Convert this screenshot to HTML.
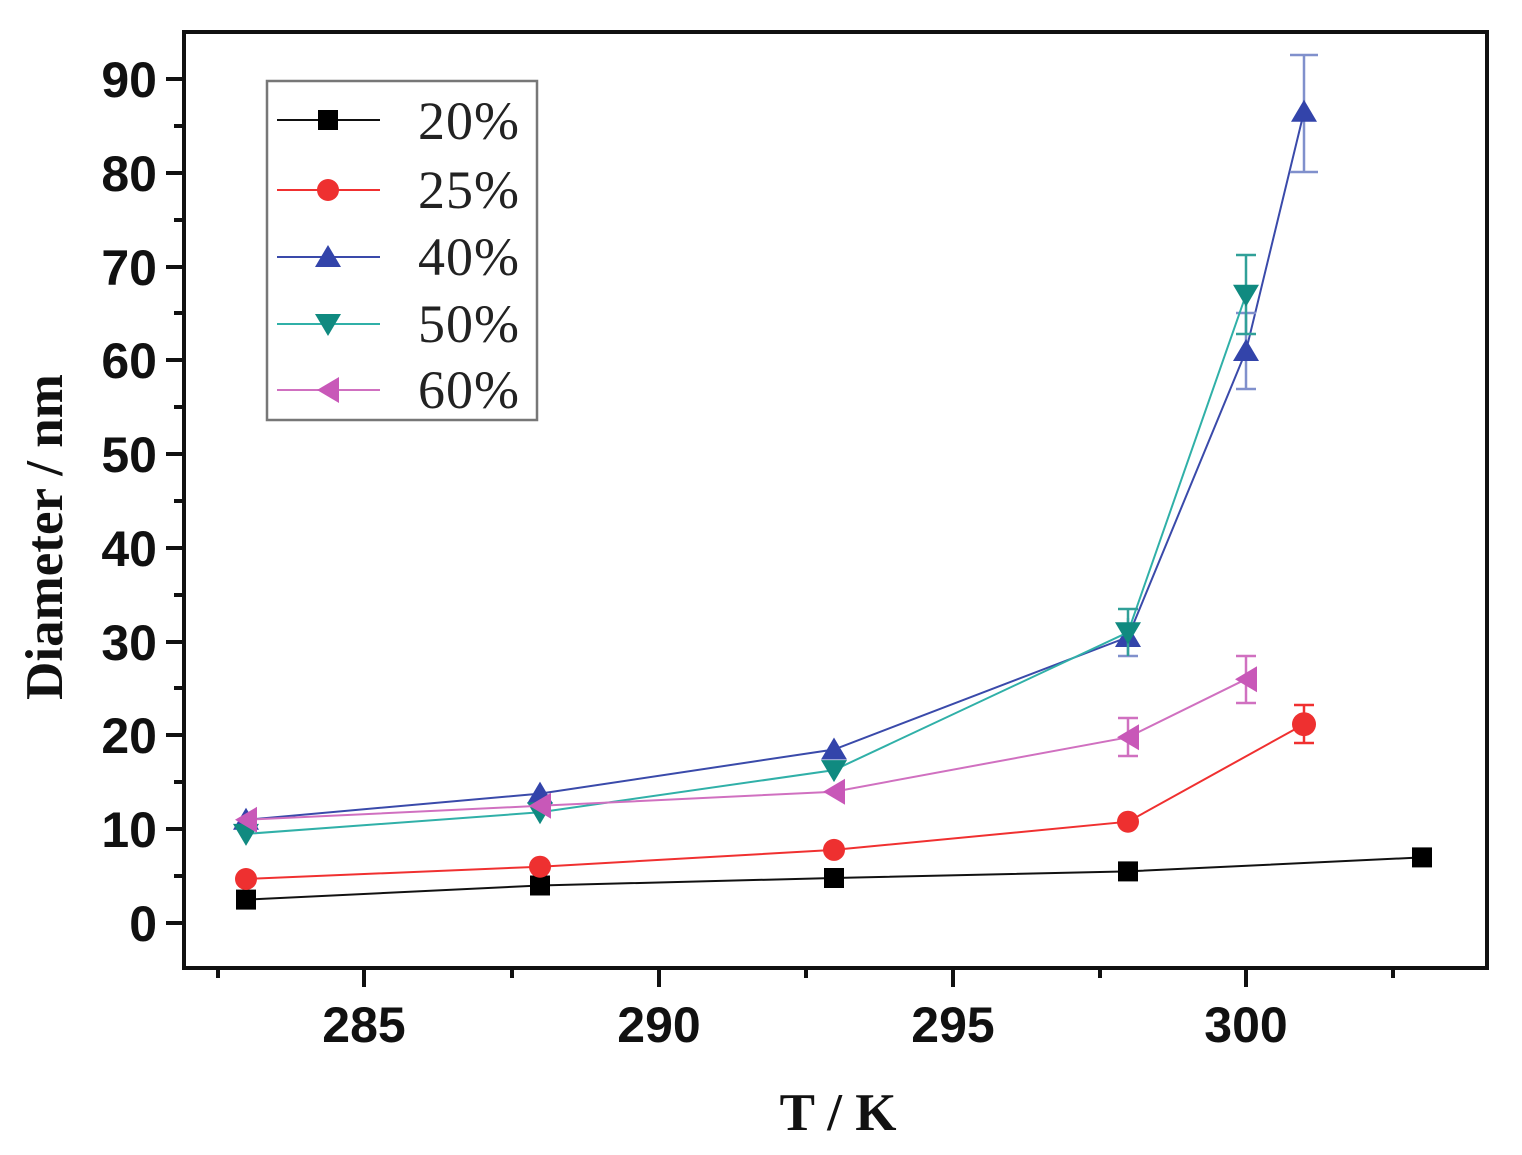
<!DOCTYPE html>
<html><head><meta charset="utf-8"><style>html,body{margin:0;padding:0;background:#fff}svg{display:block}</style></head>
<body>
<svg width="1522" height="1155" viewBox="0 0 1522 1155" xmlns="http://www.w3.org/2000/svg">
<rect width="1522" height="1155" fill="#fff"/>
<rect x="184" y="32" width="1303" height="936" fill="none" stroke="#111" stroke-width="4"/>
<g stroke="#111" stroke-width="4">
<line x1="166" y1="79" x2="184" y2="79"/><line x1="166" y1="173" x2="184" y2="173"/><line x1="166" y1="267" x2="184" y2="267"/><line x1="166" y1="360" x2="184" y2="360"/><line x1="166" y1="454" x2="184" y2="454"/><line x1="166" y1="548" x2="184" y2="548"/><line x1="166" y1="642" x2="184" y2="642"/><line x1="166" y1="735" x2="184" y2="735"/><line x1="166" y1="829" x2="184" y2="829"/><line x1="166" y1="923" x2="184" y2="923"/>
<line x1="174" y1="126" x2="184" y2="126"/><line x1="174" y1="220" x2="184" y2="220"/><line x1="174" y1="313" x2="184" y2="313"/><line x1="174" y1="407" x2="184" y2="407"/><line x1="174" y1="501" x2="184" y2="501"/><line x1="174" y1="595" x2="184" y2="595"/><line x1="174" y1="688" x2="184" y2="688"/><line x1="174" y1="782" x2="184" y2="782"/><line x1="174" y1="876" x2="184" y2="876"/>
<line x1="364" y1="968" x2="364" y2="987"/><line x1="659" y1="968" x2="659" y2="987"/><line x1="953" y1="968" x2="953" y2="987"/><line x1="1246" y1="968" x2="1246" y2="987"/>
<line x1="218" y1="968" x2="218" y2="978"/><line x1="512" y1="968" x2="512" y2="978"/><line x1="806" y1="968" x2="806" y2="978"/><line x1="1100" y1="968" x2="1100" y2="978"/><line x1="1393" y1="968" x2="1393" y2="978"/>
</g>
<g font-family="Liberation Sans, sans-serif" font-weight="bold" font-size="50" fill="#111" text-anchor="end">
<text x="157" y="97">90</text><text x="157" y="191">80</text><text x="157" y="285">70</text><text x="157" y="378">60</text><text x="157" y="472">50</text><text x="157" y="566">40</text><text x="157" y="660">30</text><text x="157" y="753">20</text><text x="157" y="847">10</text><text x="157" y="941">0</text>
</g>
<g font-family="Liberation Sans, sans-serif" font-weight="bold" font-size="50" fill="#111" text-anchor="middle">
<text x="364" y="1042">285</text><text x="659" y="1042">290</text><text x="953" y="1042">295</text><text x="1246" y="1042">300</text>
</g>
<text x="838" y="1130" font-family="Liberation Serif, serif" font-weight="bold" font-size="53" text-anchor="middle" fill="#111">T / K</text>
<text transform="translate(62,537) rotate(-90)" font-family="Liberation Serif, serif" font-weight="bold" font-size="53" text-anchor="middle" fill="#111">Diameter / nm</text>

<polyline points="246,899.6 540,885.5 834,878 1128,871.4 1422,857.4" fill="none" stroke="#111" stroke-width="2"/>
<g fill="#000"><rect x="236" y="889.6" width="20" height="20"/><rect x="530" y="875.5" width="20" height="20"/><rect x="824" y="868" width="20" height="20"/><rect x="1118" y="861.4" width="20" height="20"/><rect x="1412" y="847.4" width="20" height="20"/></g>
<polyline points="246,879 540,866.7 834,849.9 1128,821.7 1304,724.2" fill="none" stroke="#f03030" stroke-width="2"/>
<g stroke="#f03030" stroke-width="2.5"><line x1="1304" y1="705" x2="1304" y2="743"/><line x1="1294" y1="705" x2="1314" y2="705"/><line x1="1294" y1="743" x2="1314" y2="743"/></g>
<g fill="#ee3030"><circle cx="246" cy="879" r="11"/><circle cx="540" cy="866.7" r="11"/><circle cx="834" cy="849.9" r="11"/><circle cx="1128" cy="821.7" r="11"/><circle cx="1304" cy="724.2" r="12"/></g>
<polyline points="246,819.8 540,793.6 834,749.5 1128,637 1246,351 1304,111.8" fill="none" stroke="#3a4aaa" stroke-width="2"/>
<g stroke="#8090cc" stroke-width="2.5"><line x1="1128" y1="618" x2="1128" y2="656"/><line x1="1118" y1="656" x2="1138" y2="656"/>
<line x1="1246" y1="313" x2="1246" y2="389"/><line x1="1236" y1="389" x2="1256" y2="389"/><line x1="1236" y1="313" x2="1256" y2="313"/>
<line x1="1304" y1="55" x2="1304" y2="172"/><line x1="1290" y1="55" x2="1318" y2="55"/><line x1="1290" y1="172" x2="1318" y2="172"/></g>
<g fill="#3344aa"><polygon points="246,807.8 259,829.8 233,829.8"/><polygon points="540,781.6 553,803.6 527,803.6"/><polygon points="834,737.5 847,759.5 821,759.5"/><polygon points="1128,625 1141,647 1115,647"/><polygon points="1246,339 1259,361 1233,361"/><polygon points="1304,99.8 1317,121.8 1291,121.8"/></g>
<polyline points="246,833.9 540,812.3 834,770.1 1128,632.3 1246,294.7" fill="none" stroke="#30b0a8" stroke-width="2"/>
<g stroke="#30a098" stroke-width="2.5"><line x1="1128" y1="609" x2="1128" y2="656"/><line x1="1118" y1="609" x2="1138" y2="609"/>
<line x1="1246" y1="255" x2="1246" y2="334"/><line x1="1236" y1="255" x2="1256" y2="255"/><line x1="1236" y1="334" x2="1256" y2="334"/></g>
<g fill="#108a80"><polygon points="233,823.9 259,823.9 246,845.9"/><polygon points="527,802.3 553,802.3 540,824.3"/><polygon points="821,760.1 847,760.1 834,782.1"/><polygon points="1115,622.3 1141,622.3 1128,644.3"/><polygon points="1233,284.7 1259,284.7 1246,306.7"/></g>
<polyline points="246,819.8 540,805.8 834,791.7 1128,737.3 1246,679.2" fill="none" stroke="#d070c0" stroke-width="2"/>
<g stroke="#d070c0" stroke-width="2.5"><line x1="1128" y1="718" x2="1128" y2="756"/><line x1="1118" y1="718" x2="1138" y2="718"/><line x1="1118" y1="756" x2="1138" y2="756"/>
<line x1="1246" y1="656" x2="1246" y2="703"/><line x1="1236" y1="656" x2="1256" y2="656"/><line x1="1236" y1="703" x2="1256" y2="703"/></g>
<g fill="#c858b8"><polygon points="235,819.8 257,806.8 257,832.8"/><polygon points="529,805.8 551,792.8 551,818.8"/><polygon points="823,791.7 845,778.7 845,804.7"/><polygon points="1117,737.3 1139,724.3 1139,750.3"/><polygon points="1235,679.2 1257,666.2 1257,692.2"/></g>

<rect x="267" y="81" width="270" height="339" fill="#fff" stroke="#777" stroke-width="2.5"/>
<line x1="277" y1="120" x2="380" y2="120" stroke="#111" stroke-width="2"/><rect x="318" y="110" width="20" height="20" fill="#000"/>
<line x1="277" y1="190" x2="380" y2="190" stroke="#f03030" stroke-width="2"/><circle cx="328" cy="190" r="11" fill="#ee3030"/>
<line x1="277" y1="257" x2="380" y2="257" stroke="#3a4aaa" stroke-width="2"/><polygon points="328,245 341,267 315,267" fill="#3344aa"/>
<line x1="277" y1="324" x2="380" y2="324" stroke="#30b0a8" stroke-width="2"/><polygon points="315,314 341,314 328,336" fill="#108a80"/>
<line x1="277" y1="390" x2="380" y2="390" stroke="#d070c0" stroke-width="2"/><polygon points="317,390 339,377 339,403" fill="#c858b8"/>
<g font-family="Liberation Serif, serif" font-size="54" fill="#222" letter-spacing="1">
<text x="418" y="139">20%</text><text x="418" y="208">25%</text><text x="418" y="275">40%</text><text x="418" y="342">50%</text><text x="418" y="408">60%</text>
</g>
</svg>
</body></html>
